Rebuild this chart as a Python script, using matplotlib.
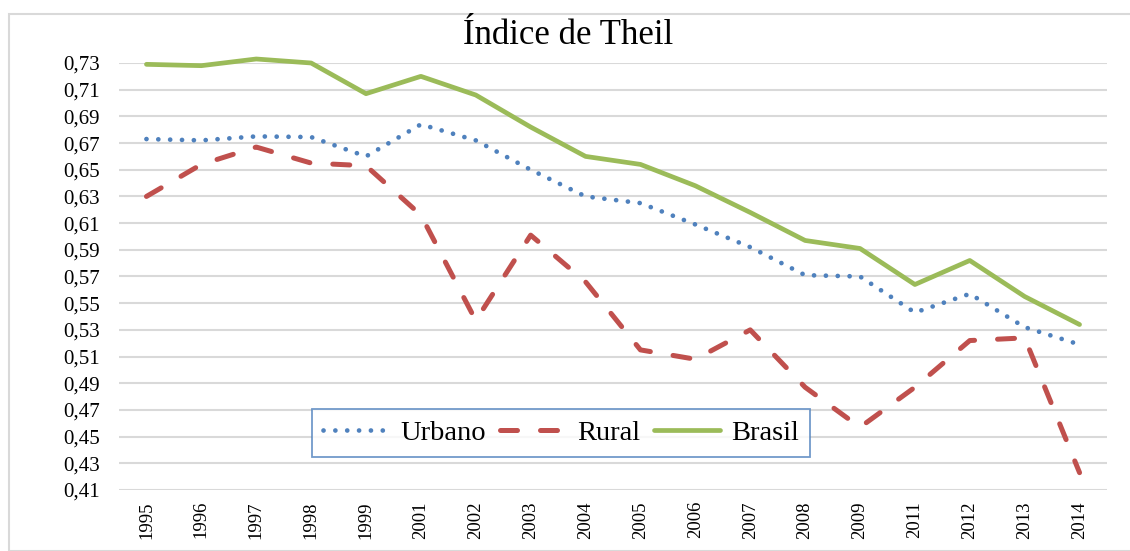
import matplotlib
matplotlib.use("Agg")
import matplotlib.pyplot as plt
from matplotlib.patches import Rectangle
import numpy as np

anos = ['1995', '1996', '1997', '1998', '1999', '2001', '2002', '2003', '2004',
        '2005', '2006', '2007', '2008', '2009', '2011', '2012', '2013', '2014']
urbano = [0.673, 0.672, 0.675, 0.6745, 0.660, 0.684, 0.672, 0.650, 0.630,
          0.625, 0.609, 0.592, 0.571, 0.570, 0.543, 0.557, 0.532, 0.519]
rural = [0.630, 0.654, 0.667, 0.655, 0.653, 0.616, 0.537, 0.601, 0.566,
         0.515, 0.508, 0.530, 0.487, 0.457, 0.487, 0.522, 0.524, 0.423]
brasil = [0.729, 0.728, 0.733, 0.730, 0.707, 0.720, 0.706, 0.682, 0.660,
          0.654, 0.638, 0.618, 0.597, 0.591, 0.564, 0.582, 0.555, 0.534]
yticks = np.round(np.arange(0.41, 0.7301, 0.02), 2)

plt.rcParams['font.family'] = ['Liberation Serif', 'DejaVu Serif']

fig = plt.figure(figsize=(11.3, 5.51), dpi=100)
fig.patches.append(Rectangle((9/1130, 0), 1.2, 1 - 14/551, transform=fig.transFigure,
                             fill=False, edgecolor='#d9d9d9', linewidth=1.5))
ax = fig.add_axes([119/1130, 1 - 490/551, (1107 - 119)/1130, (490 - 63)/551])

x = np.arange(len(anos))
ax.plot(x, urbano, color='#4f81bd', lw=3.4, linestyle=(0, (0.01, 2.5)),
        dash_capstyle='round', label='Urbano', clip_on=False, zorder=3)
ax.plot(x, rural, color='#c0504d', lw=3.6, linestyle=(0, (3.4, 4.6)),
        dash_capstyle='round', label='Rural', clip_on=False, zorder=3)
ax.plot(x, brasil, color='#9bbb59', lw=3.4, solid_capstyle='round',
        label='Brasil', clip_on=False, zorder=3)

ax.set_xlim(-0.5, len(anos) - 0.5)
ax.set_ylim(0.41, 0.73)
ax.set_yticks(yticks)
ax.set_yticklabels([('%.2f' % v).replace('.', ',') for v in yticks], fontsize=15)
ax.set_xticks(x)
ax.set_xticklabels(anos, rotation=90, fontsize=13.5)
ax.tick_params(length=0, pad=8)
ax.tick_params(axis='y', pad=14)
ax.grid(axis='y', color='#d9d9d9', lw=1.5)
ax.set_axisbelow(True)
for s in ax.spines.values():
    s.set_visible(False)

fig.text(568/1130, 1 - 36/551, 'Índice de Theil', ha='center', va='center', fontsize=25)

leg = fig.legend(loc='center', bbox_to_anchor=(561/1130, 1 - 433/551), ncol=3,
                 fontsize=20.5, frameon=True, fancybox=False, handlelength=2.3,
                 columnspacing=0.5, handletextpad=0.4, borderpad=0.4)
leg.get_frame().set_edgecolor('#4f81bd')
leg.get_frame().set_linewidth(1.3)

fig.savefig('out.png', dpi=100)
